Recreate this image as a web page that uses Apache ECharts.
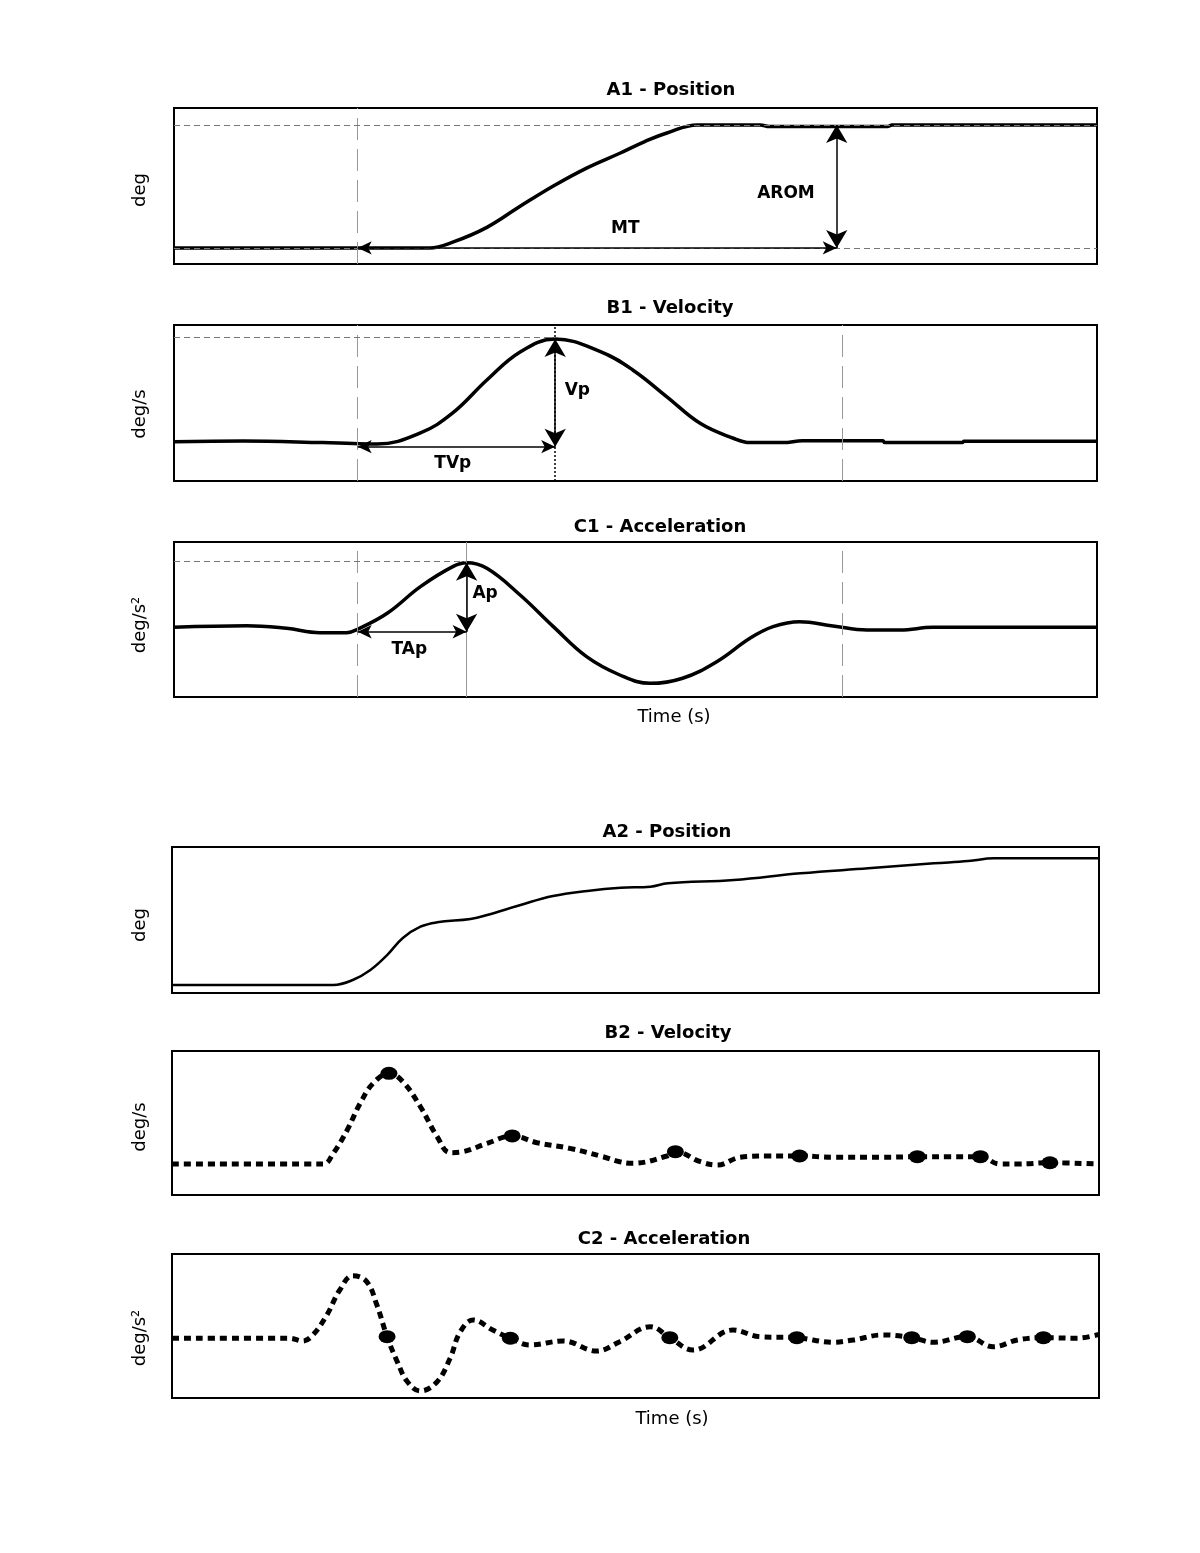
<!doctype html>
<html lang="en">
<head>
<meta charset="UTF-8">
<title>Position, velocity and acceleration profiles</title>
<script src="https://cdn.jsdelivr.net/npm/echarts@6/dist/echarts.min.js"></script>
<style>
html, body { margin: 0; background: #fff; }
#main { width: 1200px; height: 1553px; }
</style>
</head>
<body>
<div id="main"></div>
<script>
// time runs 0..100 across each panel, values are relative units (0..100 of the panel)

// A1 - position (ideal movement)
var a1Time = [0, 27.7, 30.2, 33.9, 37.5, 41.1, 44.7, 48.3, 51.0, 53.4, 56.7, 63.5, 64.5, 77.3, 77.8, 100];
var a1Pos = [10.3, 10.3, 14.0, 23.5, 37.0, 50.0, 61.5, 71.0, 78.5, 84.0, 89.1, 89.1, 88.1, 88.1, 89.1, 89.1];

// B1 - velocity
var b1Time = [0, 7.5, 16.1, 19.4, 22.0, 26.7, 30.2, 33.9, 37.5, 41.3, 46.2, 49.7, 53.4, 57.0, 60.6, 62.4, 66.0, 68.1, 76.8, 77.0, 85.4, 85.6, 100];
var b1Vel = [25.2, 25.6, 24.6, 24.0, 23.7, 30.8, 43.6, 64.7, 82.7, 91.0, 82.9, 71.2, 54.0, 37.0, 27.4, 24.6, 24.6, 25.8, 25.8, 24.6, 24.6, 25.5, 25.5];

// C1 - acceleration
var c1Time = [0, 7.9, 12.2, 15.8, 18.7, 19.9, 23.1, 26.7, 30.2, 31.7, 33.9, 37.5, 41.1, 44.7, 48.3, 51.6, 55.1, 58.8, 62.4, 64.9, 67.8, 71.4, 75.1, 78.7, 82.2, 100];
var c1Acc = [45.0, 46.0, 44.3, 41.5, 41.5, 43.7, 54.0, 71.2, 84.1, 86.6, 83.0, 65.8, 45.4, 26.0, 14.2, 8.8, 12.1, 22.8, 37.9, 45.4, 48.6, 45.8, 43.2, 43.2, 45.0, 45.0];

// A2 - position (real movement)
var a2Time = [0, 17.4, 19.5, 21.4, 23.2, 24.9, 26.8, 28.6, 32.2, 34.0, 37.6, 41.1, 44.8, 48.4, 51.6, 53.5, 60.6, 67.8, 75.1, 82.2, 85.9, 88.7, 100];
var a2Pos = [5.5, 5.5, 8.9, 15.8, 26.0, 37.7, 45.4, 48.4, 50.7, 53.4, 60.3, 66.4, 69.9, 72.1, 72.8, 75.1, 77.4, 82.0, 85.4, 88.8, 90.4, 92.3, 92.3];

// B2 - velocity
var b2Time = [0, 16.3, 17.4, 18.9, 20.3, 21.7, 23.4, 24.9, 26.8, 28.6, 30.0, 31.4, 34.0, 36.7, 39.4, 42.9, 46.5, 48.3, 49.7, 53.4, 54.3, 57.0, 58.8, 61.3, 64.2, 67.7, 71.3, 76.7, 80.4, 83.9, 87.2, 89.3, 91.2, 94.7, 100];
var b2Vel = [21.5, 21.5, 29.0, 45.1, 63.7, 77.6, 84.5, 78.7, 61.3, 40.5, 29.4, 30.1, 35.9, 41.0, 36.3, 32.4, 26.6, 23.1, 22.0, 27.1, 30.1, 23.1, 20.8, 26.2, 27.1, 27.1, 26.2, 26.2, 26.6, 26.6, 26.6, 21.5, 21.5, 22.4, 21.5];
var b2PeakTime = [23.4, 36.7, 54.3, 67.7, 80.4, 87.2, 94.7];
var b2PeakVel = [84.5, 41.0, 30.1, 27.1, 26.6, 26.6, 22.4];

// C2 - acceleration
var c2Time = [0, 12.7, 14.1, 15.2, 16.7, 18.1, 19.5, 21.0, 22.1, 23.2, 24.3, 25.4, 26.8, 28.6, 30.0, 31.1, 32.5, 34.6, 36.5, 38.6, 42.2, 45.8, 48.3, 51.6, 53.7, 56.2, 60.5, 63.4, 67.4, 71.3, 73.5, 76.7, 79.8, 82.1, 85.8, 88.6, 91.2, 94.0, 97.6, 100];
var c2Acc = [41.5, 41.5, 39.6, 43.8, 57.6, 75.0, 84.9, 80.8, 64.6, 42.6, 25.2, 11.3, 4.9, 11.3, 27.6, 46.0, 54.2, 47.2, 41.5, 36.8, 39.6, 32.6, 39.1, 49.5, 41.9, 33.3, 47.2, 42.6, 41.9, 38.7, 40.3, 43.8, 41.9, 38.7, 42.6, 35.6, 40.3, 41.9, 41.5, 44.2];
var c2ZeroTime = [23.2, 36.5, 53.7, 67.4, 79.8, 85.8, 94.0];
var c2ZeroAcc = [42.6, 41.5, 41.9, 41.9, 41.9, 42.6, 41.9];

// event times marked on the top panels
var tStart = 19.9, tEnd = 72.4, tVp = 41.3, tAp = 31.7;

var FONT = 'DejaVu Sans';

var chart = echarts.init(document.getElementById('main'));

function zip(t, v) {
    return t.map(function (x, i) { return [x, v[i]]; });
}

function arrow(x1, y1, x2, y2, size) {
    return [
        { coord: [x1, y1], symbol: 'arrow', symbolSize: size },
        { coord: [x2, y2], symbol: 'arrow', symbolSize: size }
    ];
}

function hDash(x1, x2, y) {
    return [
        { coord: [x1, y], lineStyle: { color: '#777', type: [6, 4], width: 1 } },
        { coord: [x2, y] }
    ];
}

function vLine(x, style) {
    return { xAxis: x, lineStyle: style };
}

var greyDash = { color: '#999', type: [22, 9], width: 1 };

function marks(lines, labels) {
    return {
        markLine: {
            silent: true,
            animation: false,
            symbol: ['none', 'none'],
            label: { show: false },
            lineStyle: { color: '#000', width: 1.5, type: 'solid' },
            data: lines
        },
        markPoint: {
            silent: true,
            animation: false,
            symbol: 'rect',
            symbolSize: 1,
            itemStyle: { color: 'rgba(0,0,0,0)' },
            label: {
                show: true, position: 'inside', formatter: '{b}',
                color: '#000', fontWeight: 'bold', fontSize: 17, fontFamily: FONT
            },
            data: labels
        }
    };
}

var grids = [
    { left: 174, right: 103, top: 108, height: 156 },
    { left: 174, right: 103, top: 325, height: 156 },
    { left: 174, right: 103, top: 542, height: 155 },
    { left: 172, right: 101, top: 847, height: 146 },
    { left: 172, right: 101, top: 1051, height: 144 },
    { left: 172, right: 101, top: 1254, height: 144 }
];

var titles = [
    ['A1 - Position', 671, 90], ['B1 - Velocity', 670, 308], ['C1 - Acceleration', 660, 527],
    ['A2 - Position', 667, 832], ['B2 - Velocity', 668, 1033], ['C2 - Acceleration', 664, 1239]
];
var units = [
    ['deg', 140, 190], ['deg/s', 140, 414], ['deg/s²', 140, 625],
    ['deg', 140, 925], ['deg/s', 140, 1127], ['deg/s²', 140, 1338]
];
var timeLabels = [[674, 717], [672, 1419]];

var graphic = [];
titles.forEach(function (t) {
    graphic.push({
        type: 'text', x: t[1], y: t[2],
        style: { text: t[0], font: 'bold 18px ' + FONT, fill: '#000',
                 align: 'center', verticalAlign: 'middle', textAlign: 'center', textVerticalAlign: 'middle' }
    });
});
units.forEach(function (u) {
    graphic.push({
        type: 'text', x: u[1], y: u[2], rotation: Math.PI / 2,
        style: { text: u[0], font: '18px ' + FONT, fill: '#000',
                 align: 'center', verticalAlign: 'middle', textAlign: 'center', textVerticalAlign: 'middle' }
    });
});
timeLabels.forEach(function (p) {
    graphic.push({
        type: 'text', x: p[0], y: p[1],
        style: { text: 'Time (s)', font: '18px ' + FONT, fill: '#000',
                 align: 'center', verticalAlign: 'middle', textAlign: 'center', textVerticalAlign: 'middle' }
    });
});

function solidLine(i, data, width, extra) {
    var s = {
        type: 'line', xAxisIndex: i, yAxisIndex: i, data: data,
        smooth: 0.4, showSymbol: false, clip: true,
        lineStyle: { color: '#000', width: width }, z: 3
    };
    if (extra) { s.markLine = extra.markLine; s.markPoint = extra.markPoint; }
    return s;
}

function dottedLine(i, data) {
    return {
        type: 'line', xAxisIndex: i, yAxisIndex: i, data: data,
        smooth: 0.4, showSymbol: false, clip: true,
        lineStyle: { color: '#000', width: 5, type: [7, 5], cap: 'butt' }
    };
}

function dots(i, data) {
    return {
        type: 'scatter', xAxisIndex: i, yAxisIndex: i, data: data,
        symbol: 'circle', symbolSize: [17, 13],
        itemStyle: { color: '#000', opacity: 1 }, z: 4
    };
}

var a1Marks = marks([
    vLine(tStart, greyDash),
    hDash(0, 100, 89.1),
    hDash(0, 100, 10.3),
    arrow(tStart, 10.3, 71.8, 10.3, [10, 14]),
    arrow(71.8, 10.3, 71.8, 89.1, [16, 18])
], [
    { name: 'MT', coord: [48.9, 22.4] },
    { name: 'AROM', coord: [66.3, 45.0] }
]);

var b1Marks = marks([
    vLine(tStart, greyDash),
    vLine(tEnd, greyDash),
    vLine(tVp, { color: '#000', type: [2, 2], width: 1.5 }),
    hDash(0, tVp, 92.3),
    arrow(tStart, 22.0, tVp, 22.0, [10, 14]),
    arrow(tVp, 22.0, tVp, 91.0, [16, 18])
], [
    { name: 'Vp', coord: [43.7, 57.7] },
    { name: 'TVp', coord: [30.2, 11.3] }
]);

var c1Marks = marks([
    vLine(tStart, greyDash),
    vLine(tEnd, greyDash),
    vLine(tAp, { color: '#999', type: 'solid', width: 1 }),
    hDash(0, tAp, 87.7),
    arrow(tStart, 42.1, tAp, 42.1, [10, 14]),
    arrow(tAp, 42.1, tAp, 86.6, [16, 18])
], [
    { name: 'Ap', coord: [33.7, 66.5] },
    { name: 'TAp', coord: [25.5, 30.3] }
]);

var option = {
    backgroundColor: '#fff',
    animation: false,
    grid: grids.map(function (g) {
        return Object.assign({ show: true, borderColor: '#000', borderWidth: 2, backgroundColor: 'transparent' }, g);
    }),
    xAxis: grids.map(function (g, i) {
        return { gridIndex: i, type: 'value', min: 0, max: 100, show: false };
    }),
    yAxis: grids.map(function (g, i) {
        return { gridIndex: i, type: 'value', min: 0, max: 100, show: false };
    }),
    graphic: graphic,
    series: [
        solidLine(0, zip(a1Time, a1Pos), 3.5, a1Marks),
        solidLine(1, zip(b1Time, b1Vel), 3.5, b1Marks),
        solidLine(2, zip(c1Time, c1Acc), 3.5, c1Marks),
        solidLine(3, zip(a2Time, a2Pos), 2.5),
        dottedLine(4, zip(b2Time, b2Vel)),
        dots(4, zip(b2PeakTime, b2PeakVel)),
        dottedLine(5, zip(c2Time, c2Acc)),
        dots(5, zip(c2ZeroTime, c2ZeroAcc))
    ]
};

chart.setOption(option);
</script>
</body>
</html>
